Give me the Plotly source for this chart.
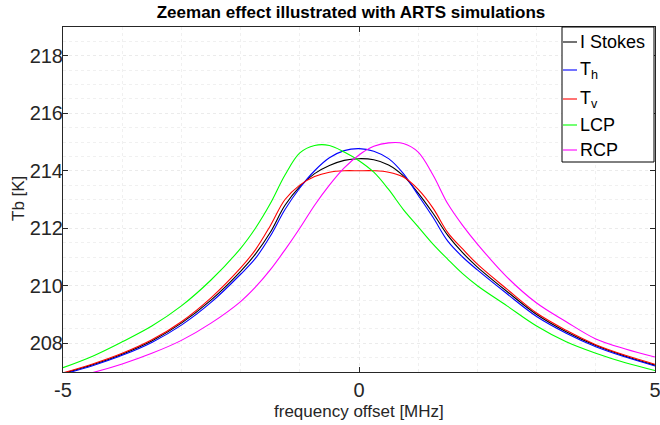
import plotly.graph_objects as go

# frequency offset grid [MHz]
freq = [-5, -4.5, -4, -3.5, -3, -2.5, -2, -1.75, -1.5, -1.25, -1, -0.75, -0.5, -0.25, 0,
        0.25, 0.5, 0.75, 1, 1.25, 1.5, 1.75, 2, 2.5, 3, 3.5, 4, 4.5, 5]

# brightness temperatures [K]
tb_i = [206.95, 207.25, 207.62, 208.08, 208.7, 209.5, 210.5, 211.1, 211.85, 212.8, 213.45, 213.9, 214.18, 214.36, 214.42,
        214.38, 214.2, 213.82, 213.22, 212.52, 211.75, 211.15, 210.65, 209.8, 209.0, 208.4, 207.92, 207.55, 207.24]
tb_h = [206.92, 207.22, 207.58, 208.03, 208.63, 209.42, 210.4, 210.95, 211.72, 212.65, 213.4, 214.0, 214.45, 214.7, 214.77,
        214.68, 214.42, 213.9, 213.15, 212.38, 211.55, 211.0, 210.55, 209.72, 208.93, 208.35, 207.88, 207.52, 207.21]
tb_v = [206.97, 207.28, 207.65, 208.12, 208.75, 209.58, 210.62, 211.25, 212.08, 213.0, 213.5, 213.8, 213.95, 214.0, 214.0,
        214.0, 213.95, 213.78, 213.35, 212.7, 211.85, 211.28, 210.75, 209.88, 209.05, 208.45, 207.95, 207.58, 207.27]
tb_lcp = [207.15, 207.55, 208.05, 208.6, 209.3, 210.2, 211.3, 212.0, 212.85, 213.85, 214.62, 214.88, 214.88, 214.65, 214.35,
          213.95, 213.35, 212.65, 212.05, 211.45, 210.92, 210.42, 210.0, 209.3, 208.6, 208.05, 207.65, 207.32, 207.05]
tb_rcp = [206.75, 206.98, 207.28, 207.65, 208.1, 208.7, 209.45, 209.95, 210.55, 211.25, 212.0, 212.8, 213.5, 214.1, 214.55,
          214.85, 214.97, 214.95, 214.65, 213.85, 212.85, 212.1, 211.45, 210.3, 209.4, 208.75, 208.15, 207.8, 207.52]

names = ["I Stokes", "T<sub>h</sub>", "T<sub>v</sub>", "LCP", "RCP"]
colors = ["#000000", "#0000ff", "#ff0000", "#00ff00", "#ff00ff"]
values = [tb_i, tb_h, tb_v, tb_lcp, tb_rcp]

font = "Liberation Sans, Arial, sans-serif"
W, H = 660, 425
L, R, T, B = 63, 5, 27, 53
pw, ph = W - L - R, H - T - B

def px(x):  # screen x -> paper
    return (x - L) / pw

def py(y):  # screen y -> paper
    return (H - B - y) / ph

fig = go.Figure()
for name, vals, col in zip(names, values, colors):
    fig.add_trace(go.Scatter(x=freq, y=vals, mode="lines", name=name, showlegend=False,
                             line=dict(color=col, width=1.1, shape="spline", smoothing=1)))

# MATLAB-style legend box drawn by hand
legend_y = [42, 70, 99, 125, 150]
fig.add_shape(type="rect", xref="paper", yref="paper", x0=px(562), x1=px(654), y0=py(162), y1=py(27),
              line=dict(color="black", width=1), fillcolor="white", layer="above")
for name, col, ly in zip(names, colors, legend_y):
    fig.add_shape(type="line", xref="paper", yref="paper", x0=px(563), x1=px(577), y0=py(ly), y1=py(ly),
                  line=dict(color=col, width=1.1), layer="above")
    fig.add_annotation(text=name, xref="paper", yref="paper", x=px(578), y=py(ly), xanchor="left",
                       yanchor="middle", showarrow=False, font=dict(size=18, color="black"))

# axis titles
fig.add_annotation(text="frequency offset [MHz]", xref="paper", yref="paper", x=px(359), y=py(411),
                   xanchor="center", yanchor="middle", showarrow=False, font=dict(size=17, color="#262626"))
fig.add_annotation(text="Tb [K]", xref="paper", yref="paper", x=px(18), y=py(199), textangle=-90,
                   xanchor="center", yanchor="middle", showarrow=False, font=dict(size=17, color="#262626"))

fig.update_layout(
    width=W, height=H,
    margin=dict(l=L, r=R, t=T, b=B, autoexpand=False),
    paper_bgcolor="white", plot_bgcolor="white",
    font=dict(family=font, color="#262626"),
    title=dict(text="<b>Zeeman effect illustrated with ARTS simulations</b>",
               xref="container", x=351 / W, xanchor="center", yref="container", y=1 - 12 / H, yanchor="middle",
               font=dict(size=17, color="black")),
    showlegend=False,
)
fig.update_xaxes(range=[-5, 5], tickvals=[-5, 0, 5], ticktext=["-5", "0", "5"],
                 tickfont=dict(size=20), ticks="inside", ticklen=5, tickcolor="#262626",
                 ticklabeloverflow="allow", automargin=False,
                 showline=True, linecolor="#262626", linewidth=1, mirror="ticks",
                 showgrid=True, gridcolor="#ebebeb", griddash="dot",
                 minor=dict(dtick=1, showgrid=True, gridcolor="#f0f0f0", griddash="dot"),
                 zeroline=False)
fig.update_yaxes(range=[207, 219], tickvals=[208, 210, 212, 214, 216, 218],
                 tickfont=dict(size=20), ticks="inside", ticklen=5, tickcolor="#262626",
                 ticklabelstandoff=-5, ticklabeloverflow="allow", automargin=False,
                 showline=True, linecolor="#262626", linewidth=1, mirror="ticks",
                 showgrid=True, gridcolor="#ebebeb", griddash="dot",
                 minor=dict(dtick=0.5, showgrid=True, gridcolor="#f0f0f0", griddash="dot"),
                 zeroline=False)

fig.write_html("out.html", config={"displayModeBar": False},
               post_script="document.body.style.margin='0';")
